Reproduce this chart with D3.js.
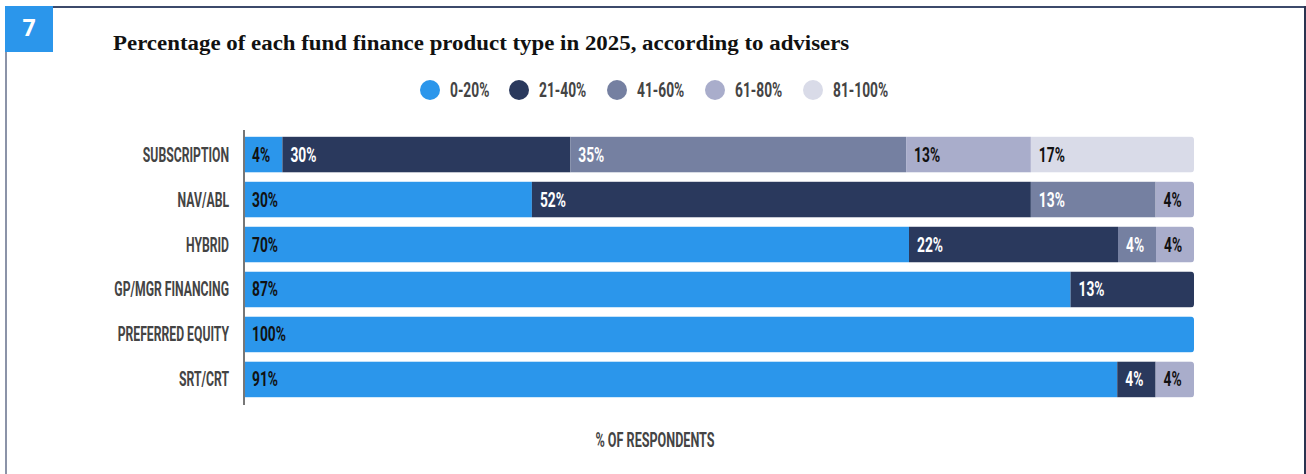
<!DOCTYPE html>
<html>
<head>
<meta charset="utf-8">
<script src="https://cdn.jsdelivr.net/npm/d3@7"></script>
<style>
  html, body { margin: 0; padding: 0; background: #fff; }
  svg { display: block; }
  .cond { font-family: "Roboto", "Liberation Sans", sans-serif; font-weight: 700; }
</style>
</head>
<body>
<svg id="chart" width="1306" height="474"></svg>
<script>
// Fund finance product types and the share of advisers in each band
const products = ["SUBSCRIPTION", "NAV/ABL", "HYBRID", "GP/MGR FINANCING", "PREFERRED EQUITY", "SRT/CRT"];
const bands = ["0-20%", "21-40%", "41-60%", "61-80%", "81-100%"];
const band0to20   = [4, 30, 70, 87, 100, 91];
const band21to40  = [30, 52, 22, 13, 0, 4];
const band41to60  = [35, 13, 4, 0, 0, 0];
const band61to80  = [13, 4, 4, 0, 0, 4];
const band81to100 = [17, 0, 0, 0, 0, 0];
const bandColors = ["#2b96eb", "#2a395d", "#7580a1", "#a9adcb", "#d9dbe8"];
const labelColors = ["#111", "#fff", "#fff", "#111", "#111"];

const seriesValues = [band0to20, band21to40, band41to60, band61to80, band81to100];
const rows = products.map((p, i) => {
  const r = { product: p };
  bands.forEach((b, j) => { r[b] = seriesValues[j][i]; });
  return r;
});

// Narrow display type: a bold sans squeezed horizontally
function condensed(sel, xf, yf, squeeze) {
  return sel.attr("class", "cond")
    .attr("x", 0).attr("y", 0)
    .attr("transform", (d, i) => `translate(${xf(d, i)},${yf(d, i)}) scale(${squeeze},1)`);
}

const svg = d3.select("#chart");

// Panel frame and number badge
svg.append("line").attr("x1", 53).attr("x2", 1306).attr("y1", 7).attr("y2", 7)
  .attr("stroke", "#3c4a6b").attr("stroke-width", 2);
svg.append("line").attr("x1", 1305).attr("x2", 1305).attr("y1", 6).attr("y2", 474)
  .attr("stroke", "#2a3350").attr("stroke-width", 2);
svg.append("line").attr("x1", 6).attr("x2", 6).attr("y1", 52).attr("y2", 474)
  .attr("stroke", "#8b93a8").attr("stroke-width", 2);
svg.append("rect").attr("x", 5).attr("y", 6).attr("width", 48).attr("height", 46).attr("fill", "#2b96eb");
svg.append("text").attr("x", 29).attr("y", 36).attr("text-anchor", "middle")
  .attr("font-family", "'Open Sans', sans-serif").attr("font-weight", 700).attr("font-size", 23)
  .attr("fill", "#fff").text("7");

// Title
svg.append("text").attr("x", 0).attr("y", 0)
  .attr("transform", "translate(113,50) scale(1.09,1)")
  .attr("font-family", "'Liberation Serif', 'DejaVu Serif', serif").attr("font-weight", 700)
  .attr("font-size", 21).attr("fill", "#111")
  .text("Percentage of each fund finance product type in 2025, according to advisers");

// Legend
const legendX = [430, 519, 617, 715, 813];
const legend = svg.append("g").selectAll("g").data(bands).join("g")
  .attr("transform", (d, i) => `translate(${legendX[i]},90)`);
legend.append("circle").attr("r", 10).attr("fill", (d, i) => bandColors[i]);
condensed(legend.append("text"), () => 20, () => 7, 0.69)
  .attr("font-size", 20).attr("fill", "#444").text(d => d);

// Scales: each row is stacked to its full width
const margin = { left: 244, right: 1194, top: 133, bottom: 401 };
const x = d3.scaleLinear().domain([0, 1]).range([margin.left, margin.right]);
const y = d3.scaleBand().domain(products).range([margin.top, margin.bottom]).paddingInner(0.2).paddingOuter(0.08);

const stack = d3.stack().keys(bands).offset(d3.stackOffsetExpand);
const stacked = stack(rows);

// Clip each row so its right end is rounded
const defs = svg.append("defs");
products.forEach((p, i) => {
  defs.append("clipPath").attr("id", "row" + i)
    .append("rect")
    .attr("x", x(0) - 10).attr("y", y(p))
    .attr("width", x(1) - x(0) + 10).attr("height", y.bandwidth()).attr("rx", 3.5);
});

const layers = svg.append("g").selectAll("g").data(stacked).join("g")
  .attr("fill", (d, i) => bandColors[i]);

layers.selectAll("rect").data(d => d.map(v => ({ v, key: d.key })))
  .join("rect")
  .attr("clip-path", d => `url(#row${products.indexOf(d.v.data.product)})`)
  .attr("x", d => x(d.v[0]))
  .attr("y", d => y(d.v.data.product))
  .attr("width", d => Math.max(0, x(d.v[1]) - x(d.v[0])))
  .attr("height", y.bandwidth());

// Value labels
layers.each(function (layer, li) {
  condensed(
    d3.select(this).selectAll("text")
      .data(layer.filter(v => v.data[layer.key] > 0))
      .join("text"),
    v => x(v[0]) + 8,
    v => y(v.data.product) + y.bandwidth() / 2 + 7,
    0.69)
    .attr("font-size", 20)
    .attr("fill", labelColors[li])
    .text(v => v.data[layer.key] + "%");
});

// Category axis
svg.append("line").attr("x1", 244).attr("x2", 244).attr("y1", 130).attr("y2", 405)
  .attr("stroke", "#777").attr("stroke-width", 2);
condensed(
  svg.append("g").selectAll("text").data(products).join("text"),
  () => 229,
  d => y(d) + y.bandwidth() / 2 + 7,
  0.61)
  .attr("text-anchor", "end").attr("font-size", 20)
  .attr("fill", "#444").text(d => d);

// Axis caption
condensed(svg.append("text"), () => 655, () => 447, 0.63)
  .attr("text-anchor", "middle").attr("font-size", 20)
  .attr("fill", "#444").text("% OF RESPONDENTS");
</script>
</body>
</html>
